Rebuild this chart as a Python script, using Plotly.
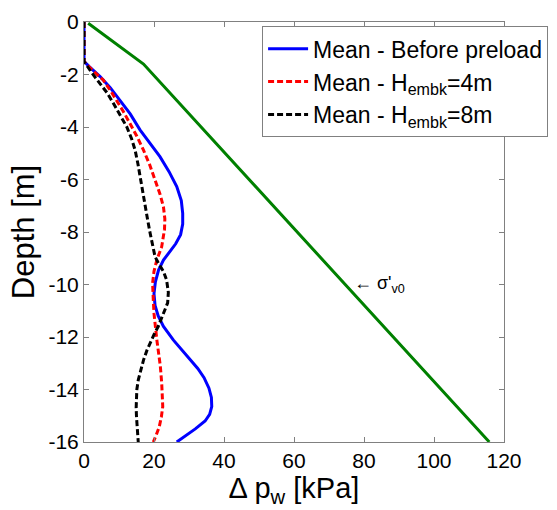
import plotly.graph_objects as go

# Excess pore pressure profiles: depth [m] vs delta p_w [kPa]
depth_before = [0, -1.5, -1.7, -2.08, -2.5, -2.97, -3.5, -4.11, -4.65, -5.13, -5.7, -6.27, -6.8, -7.29,
                -7.7, -8.1, -8.45, -8.75, -9.07, -9.45, -9.9, -10.35, -10.8, -11.2, -11.6, -12.11,
                -12.5, -12.88, -13.2, -13.55, -13.95, -14.3, -14.65, -14.95, -15.2, -15.5, -15.75, -16]
dp_before = [0, 0, 1.5, 4.6, 7.5, 10.3, 13.2, 16, 19, 21.7, 24.3, 26.5, 27.8, 28.2,
             28.2, 27.6, 26.2, 24.4, 22.7, 21.3, 20.4, 20.0, 20.3, 21.2, 22.7, 25.5,
             28.0, 30.3, 32.5, 34.3, 35.7, 36.4, 36.5, 35.9, 34.6, 31.8, 29.0, 26.5]

depth_h4 = [0, -1.5, -1.85, -2.21, -2.6, -2.97, -3.4, -3.86, -4.35, -4.88, -5.45, -6.02, -6.55, -7.04,
            -7.5, -7.9, -8.56, -9.07, -9.5, -9.95, -10.3, -10.59, -11.1, -11.6, -12.1, -12.5,
            -13.1, -13.76, -14.3, -14.65, -15.05, -15.42, -15.75, -16]
dp_h4 = [0, 0, 2.5, 5.5, 7.5, 9.3, 11.2, 13.1, 15.1, 17, 18.8, 20.3, 21.7, 22.7,
         23.1, 23.0, 22.2, 20.8, 20.0, 19.6, 19.6, 19.8, 20.0, 20.3, 20.8, 21.2,
         21.8, 22.2, 22.5, 22.5, 22.1, 21.5, 20.6, 19.8]

depth_h8 = [0, -1.5, -1.95, -2.34, -2.7, -3.1, -3.55, -3.99, -4.45, -4.88, -5.4, -5.89, -6.45, -7.04,
            -7.55, -8.05, -8.5, -8.94, -9.2, -9.5, -9.83, -10.3, -10.7, -10.97, -11.3, -11.6,
            -11.85, -12.11, -12.5, -12.88, -13.3, -13.64, -14.0, -14.27, -14.7, -15.04, -15.5, -16]
dp_h8 = [0, 0, 2.3, 4.6, 6.6, 8.4, 10.4, 12.2, 13.6, 14.6, 15.4, 16.0, 16.7, 17.4,
         18.2, 18.9, 19.6, 20.3, 21.3, 22.7, 23.6, 24.1, 23.9, 23.1, 22.2, 21.2,
         20.2, 19.3, 18.0, 17.0, 16.1, 15.5, 15.1, 15.0, 14.9, 15.0, 15.2, 15.5]

# Initial vertical effective stress
depth_sigma = [-0.05, -1.6, -16]
sigma_v0 = [1.2, 17.0, 115.8]

x_ticks = [0, 20, 40, 60, 80, 100, 120]
y_ticks = [0, -2, -4, -6, -8, -10, -12, -14, -16]
y_tick_labels = ["0", "-2", "-4", "-6", "-8", "-10", "-12", "-14", "-16"]

FONT = "Liberation Sans, Arial, sans-serif"

fig = go.Figure()
fig.add_trace(go.Scatter(x=dp_before, y=depth_before, mode="lines",
                         name="Mean - Before preload",
                         line=dict(color="rgb(0,0,255)", width=3)))
fig.add_trace(go.Scatter(x=dp_h4, y=depth_h4, mode="lines",
                         name="Mean - H<sub>embk</sub>=4m",
                         line=dict(color="rgb(255,0,0)", width=3, dash="6px,3px")))
fig.add_trace(go.Scatter(x=dp_h8, y=depth_h8, mode="lines",
                         name="Mean - H<sub>embk</sub>=8m",
                         line=dict(color="black", width=3, dash="6px,3px")))
fig.add_trace(go.Scatter(x=sigma_v0, y=depth_sigma, mode="lines", showlegend=False,
                         line=dict(color="rgb(0,128,0)", width=3)))

fig.add_annotation(x=76.5, y=-10, xref="x", yref="y", text="← σ'<sub>v0</sub>",
                   showarrow=False, xanchor="left", yanchor="middle",
                   font=dict(family=FONT, size=18, color="black"))

axis_common = dict(showgrid=False, zeroline=False, showline=True, linecolor="#808080",
                   linewidth=1, mirror="ticks", ticks="inside", ticklen=5,
                   tickcolor="#808080", tickfont=dict(family=FONT, size=21, color="black"))

fig.update_xaxes(range=[0, 120], tickvals=x_ticks,
                 title=dict(text="Δ p<sub>w</sub> [kPa]", font=dict(family=FONT, size=29, color="black"),
                            standoff=2),
                 **axis_common)
fig.update_yaxes(range=[-16, 0], tickvals=y_ticks, ticktext=y_tick_labels,
                 title=dict(text="Depth [m]", font=dict(family=FONT, size=31, color="black"),
                            standoff=4),
                 **axis_common)

fig.update_layout(
    width=557, height=510,
    margin=dict(l=84, r=53, t=22, b=68, autoexpand=False),
    plot_bgcolor="white", paper_bgcolor="white",
    font=dict(family=FONT, color="black"),
    legend=dict(x=0.424, y=0.99, xanchor="left", yanchor="top",
                bgcolor="white", bordercolor="#808080", borderwidth=1,
                font=dict(family=FONT, size=23, color="black"),
                itemwidth=40, tracegroupgap=0),
)

fig.write_html("out.html")
